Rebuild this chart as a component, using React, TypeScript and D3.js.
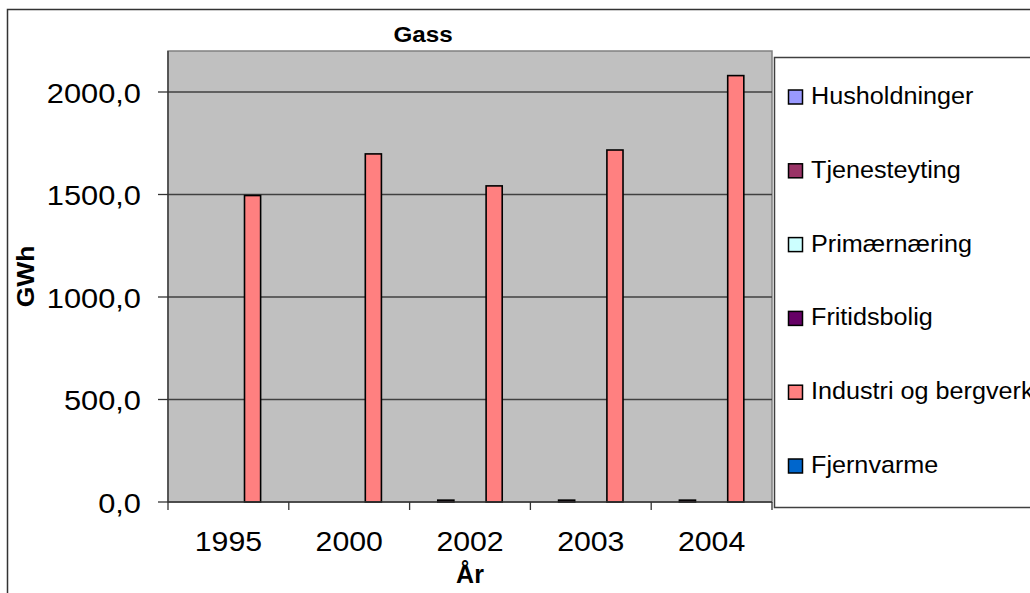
import React from "react";
import * as d3 from "d3";

const years = ["1995", "2000", "2002", "2003", "2004"];
const seriesNames = ["Husholdninger", "Tjenesteyting", "Primærnæring", "Fritidsbolig", "Industri og bergverk", "Fjernvarme"];
const seriesColors = ["#9999FF", "#993366", "#CCFFFF", "#660066", "#FF8080", "#0066CC"];
const husholdninger = [0, 0, 0, 0, 0];
const tjenesteyting = [0, 0, 9, 9, 9];
const primaernaering = [0, 0, 0, 0, 0];
const fritidsbolig = [0, 0, 0, 0, 0];
const industri = [1495, 1698, 1542, 1717, 2080];
const fjernvarme = [0, 0, 0, 0, 0];
const yTicks = [0, 500, 1000, 1500, 2000];
const yMax = 2200;

const seriesValues = [husholdninger, tjenesteyting, primaernaering, fritidsbolig, industri, fjernvarme];

function SText(props: { x: number; y: number; sx: number; rotate?: number; children: React.ReactNode; [k: string]: any }) {
  const { x, y, sx, rotate, children, ...rest } = props;
  return (
    <text transform={`translate(${x},${y})${rotate ? ` rotate(${rotate})` : ""} scale(${sx},1)`} {...rest}>
      {children}
    </text>
  );
}

export default function App() {
  const W = 1030, H = 593;
  const left = 168, right = 772, top = 51, bottom = 502;
  const font = "'Liberation Sans', Arial, sans-serif";
  const x = d3.scaleBand<string>().domain(years).range([left, right]).padding(0);
  const xs = d3.scaleBand<string>().domain(seriesNames).range([0, x.bandwidth()]).paddingInner(0).paddingOuter(0.75);
  const y = d3.scaleLinear().domain([0, yMax]).range([bottom, top]);
  const fmt = (v: number) => d3.format(".1f")(v).replace(".", ",");
  const boundaries = [...years.map((yr) => x(yr)!), right];

  return (
    <svg width={W} height={H} style={{ position: "absolute", left: 0, top: 0, background: "#fff" }} fontFamily={font}>
      <rect x={7.5} y={9.5} width={1100} height={700} fill="#fff" stroke="#333" strokeWidth={1.5} />
      <SText x={423} y={42} sx={1.1} textAnchor="middle" fontWeight="bold" fontSize={22}>Gass</SText>
      <rect x={left} y={top} width={right - left} height={bottom - top} fill="#C0C0C0" stroke="#808080" strokeWidth={1.5} />
      {yTicks.filter((t) => t > 0).map((t) => (
        <line key={"g" + t} x1={left} x2={right} y1={y(t)} y2={y(t)} stroke="#404040" strokeWidth={1.3} />
      ))}
      {seriesValues.map((vals, si) =>
        vals.map((v, ci) =>
          v > 0 ? (
            <rect key={si + "-" + ci} x={x(years[ci])! + xs(seriesNames[si])!} y={y(v)} width={xs.bandwidth()} height={bottom - y(v)} fill={seriesColors[si]} stroke="#000" strokeWidth={1.6} />
          ) : null
        )
      )}
      <line x1={left} x2={left} y1={top} y2={bottom} stroke="#333" strokeWidth={1.3} />
      <line x1={left} x2={right} y1={bottom} y2={bottom} stroke="#333" strokeWidth={1.3} />
      {yTicks.map((t) => (
        <g key={"t" + t}>
          <line x1={158} x2={left} y1={y(t)} y2={y(t)} stroke="#333" strokeWidth={1.3} />
          <SText x={141} y={y(t) + 10.5} sx={1.1} textAnchor="end" fontSize={28}>{fmt(t)}</SText>
        </g>
      ))}
      {boundaries.map((bx, i) => (
        <line key={"xt" + i} x1={bx} x2={bx} y1={bottom} y2={bottom + 8} stroke="#333" strokeWidth={1.3} />
      ))}
      {years.map((yr) => (
        <SText key={yr} x={x(yr)! + x.bandwidth() / 2} y={551} sx={1.08} textAnchor="middle" fontSize={28}>{yr}</SText>
      ))}
      <text x={470} y={583} textAnchor="middle" fontWeight="bold" fontSize={25}>År</text>
      <SText x={34} y={(top + bottom) / 2} rotate={-90} sx={1.1} textAnchor="middle" fontWeight="bold" fontSize={24}>GWh</SText>
      <rect x={774.5} y={57.5} width={300} height={450} fill="#fff" stroke="#404040" strokeWidth={1.5} />
      {seriesNames.map((name, i) => {
        const cy = 97 + i * 73.8;
        return (
          <g key={name}>
            <rect x={788.5} y={cy - 7} width={14} height={14} fill={seriesColors[i]} stroke="#000" strokeWidth={1.5} />
            <SText x={811} y={cy + 7} sx={1.05} fontSize={24}>{name}</SText>
          </g>
        );
      })}
    </svg>
  );
}
